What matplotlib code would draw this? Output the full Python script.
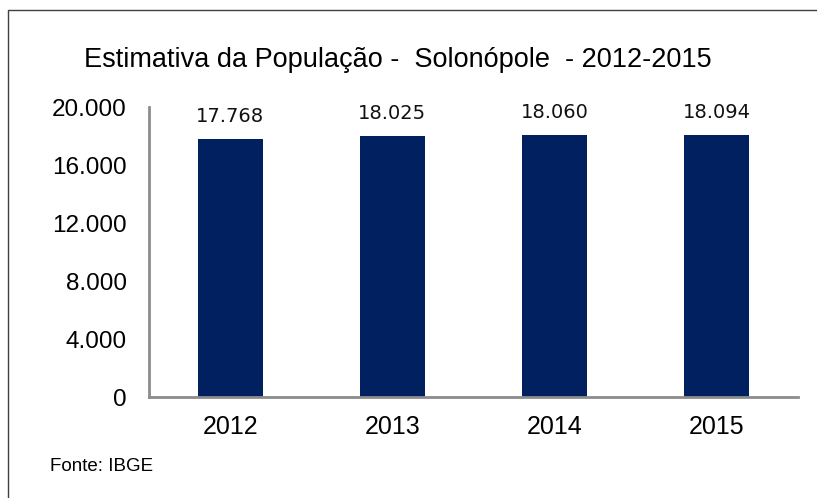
import matplotlib.pyplot as plt
from matplotlib.lines import Line2D

# dados
anos = ["2012", "2013", "2014", "2015"]
populacao = [17768, 18025, 18060, 18094]
yticks = [0, 4000, 8000, 12000, 16000, 20000]

def fmt(v):
    # separador de milhar com ponto
    return f"{v:,}".replace(",", ".")

fig = plt.figure(figsize=(8.17, 4.98), dpi=100)

# borda do grafico (so esquerda e topo aparecem)
fig.lines.append(Line2D([7.5/817, 7.5/817, 1], [0, 1 - 10.5/498, 1 - 10.5/498],
                        transform=fig.transFigure, color="#404040", linewidth=1))

ax = fig.add_axes([149/817, 1 - 397/498, 649/817, 290/498])

x = range(len(anos))
ax.bar(x, populacao, width=0.4, color="#002060")

for i, v in zip(x, populacao):
    ax.text(i, v + 900, fmt(v), ha="center", va="bottom", fontsize=14,
            family="DejaVu Sans", color="#111111")

ax.set_xlim(-0.5, 3.5)
ax.set_ylim(0, 20000)
ax.set_yticks(yticks)
ax.set_yticklabels([fmt(t) for t in yticks], family="Liberation Sans", fontsize=17.5)
ax.set_xticks(list(x))
ax.set_xticklabels(anos, family="Liberation Sans", fontsize=18)
ax.tick_params(length=0)
ax.tick_params(axis="y", pad=16)
ax.tick_params(axis="x", pad=13)

for s in ["top", "right"]:
    ax.spines[s].set_visible(False)
for s in ["left", "bottom"]:
    ax.spines[s].set_color("#8c8c8c")
    ax.spines[s].set_linewidth(2)

fig.text(398/817, 1 - 60/498, "Estimativa da População -  Solonópole  - 2012-2015",
         ha="center", va="center", fontsize=19.5, family="Liberation Sans")
fig.text(50/817, 1 - 466/498, "Fonte: IBGE", ha="left", va="center",
         fontsize=13.5, family="Liberation Sans")

fig.savefig("out.png", dpi=100)
